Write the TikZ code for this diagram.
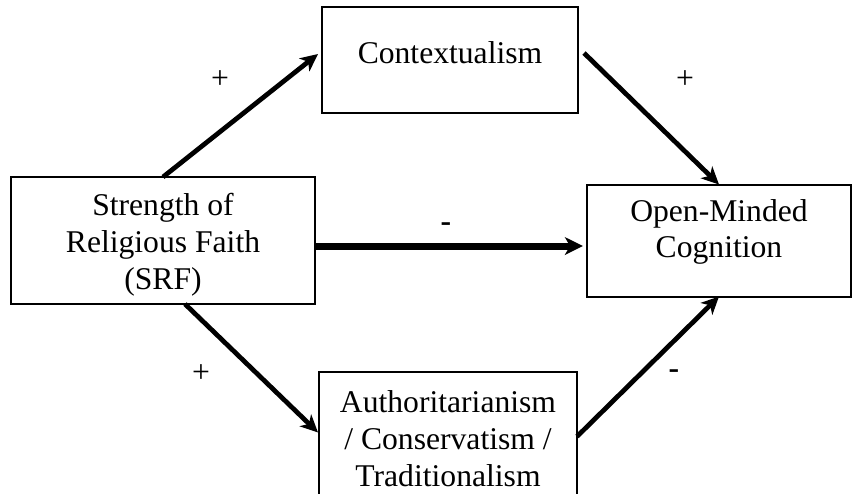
\documentclass[tikz,border=0pt]{standalone}
\usepackage{fontspec}
\setmainfont{Liberation Serif}
\usepackage{tikz}
\usetikzlibrary{arrows.meta,positioning}

\begin{document}
\begin{tikzpicture}[>={Stealth[length=0.35cm,width=0.33cm,inset=0.1cm]},
  box/.style={draw,line width=0.04cm,align=center,outer sep=0pt,inner sep=0pt,
              font=\fontsize{18}{21}\selectfont},
  link/.style={->,line width=0.095cm},
  mainlink/.style={-{Stealth[length=0.36cm,width=0.35cm,inset=0.1cm]},line width=0.14cm},
  effect/.style={inner sep=0pt,font=\fontsize{18}{21}\selectfont}]
  \useasboundingbox (0,0) rectangle (17.04,-9.86);

  \node[box,text height=2.08cm,text depth=0.14cm,
        minimum width=6.08cm,minimum height=2.54cm] (srf) at (3.26,-4.81)
        {Strength of\\Religious Faith\\(SRF)};
  \node[box,above right=1.28cm and 0.14cm of srf,text depth=0.28cm,
        minimum width=5.12cm,minimum height=2.12cm] (ctx)
        {Contextualism};
  \node[box,right=5.44cm of srf,text depth=0.48cm,
        minimum width=5.28cm,minimum height=2.24cm] (omc)
        {Open-Minded\\Cognition};
  \node[box,below right=1.36cm and 0.08cm of srf,text height=2.06cm,text depth=0cm,
        minimum width=5.16cm,minimum height=2.5cm] (auth)
        {Authoritarianism\\/ Conservatism /\\Traditionalism};

  \node[effect] (s1) at (4.40,-1.60) {+};
  \node[effect] (s2) at (13.70,-1.60) {+};
  \node[effect] (s3) at (8.92,-4.54) {\textbf{-}};
  \node[effect] (s4) at (4.02,-7.48) {+};
  \node[effect] (s5) at (13.48,-7.48) {\textbf{-}};

  \draw[link] (srf.north) -- ([shift={(-0.08,0.12)}]ctx.west);
  \draw[link] ([shift={(0.12,0.14)}]ctx.east) -- (omc.north);
  \draw[mainlink] ([yshift=-0.11cm]srf.east) -- ([shift={(-0.08,-0.11)}]omc.west);
  \draw[link] ([xshift=0.44cm]srf.south) -- ([shift={(-0.02,0.04)}]auth.west);
  \draw[link] ([yshift=-0.04cm]auth.east) -- (omc.south);
\end{tikzpicture}
\end{document}
